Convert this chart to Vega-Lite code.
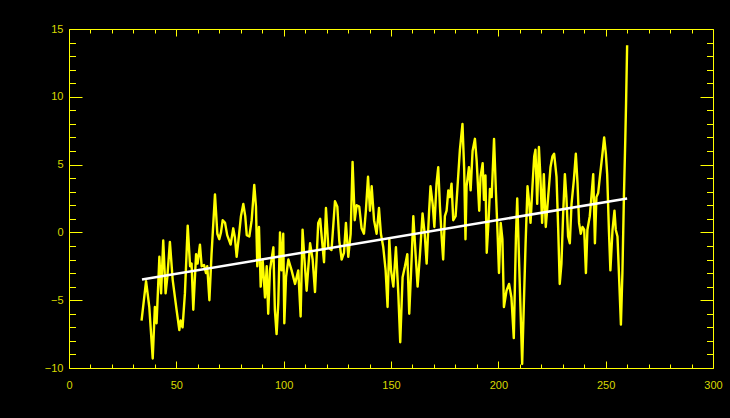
{
  "$schema": "https://vega.github.io/schema/vega-lite/v6.json",
  "width": 644,
  "height": 339,
  "autosize": {"type": "none"},
  "padding": {"left": 69, "top": 29, "right": 17, "bottom": 50},
  "background": "#000000",
  "view": {"stroke": null},
  "config": {
    "axis": {
      "domainColor": "#ffff00",
      "tickColor": "#ffff00",
      "labelColor": "#d8d800",
      "labelFont": "Liberation Sans",
      "labelFontSize": 11,
      "grid": false,
      "title": null,
      "tickWidth": 1,
      "domainWidth": 1
    }
  },
  "datasets": {
    "series": [
      {"x": 33.8, "y": -6.5}, {"x": 35.9, "y": -3.6}, {"x": 37.4, "y": -5.5}, {"x": 39.0, "y": -9.3},
      {"x": 40.0, "y": -5.5}, {"x": 40.8, "y": -6.7}, {"x": 42.1, "y": -1.8}, {"x": 42.9, "y": -4.5},
      {"x": 43.9, "y": -0.6}, {"x": 45.0, "y": -4.5}, {"x": 45.8, "y": -3.3}, {"x": 47.0, "y": -0.7},
      {"x": 48.3, "y": -3.5}, {"x": 50.1, "y": -5.7}, {"x": 51.4, "y": -7.2}, {"x": 52.0, "y": -6.5},
      {"x": 52.9, "y": -7.0}, {"x": 54.0, "y": -4.5}, {"x": 55.3, "y": 0.5}, {"x": 56.4, "y": -2.5},
      {"x": 57.1, "y": -2.3}, {"x": 57.9, "y": -5.7}, {"x": 59.2, "y": -1.6}, {"x": 59.9, "y": -2.3},
      {"x": 61.0, "y": -0.9}, {"x": 61.8, "y": -2.5}, {"x": 62.9, "y": -2.4}, {"x": 63.8, "y": -3.0},
      {"x": 64.4, "y": -2.5}, {"x": 65.4, "y": -5.0}, {"x": 66.4, "y": -1.6}, {"x": 68.0, "y": 2.8},
      {"x": 69.1, "y": -0.1}, {"x": 70.0, "y": -0.5}, {"x": 70.8, "y": 0.0}, {"x": 71.6, "y": 0.9},
      {"x": 72.7, "y": 0.7}, {"x": 73.7, "y": -0.2}, {"x": 75.3, "y": -0.9}, {"x": 76.5, "y": 0.3},
      {"x": 77.3, "y": -0.4}, {"x": 78.1, "y": -1.8}, {"x": 79.2, "y": -0.2}, {"x": 80.1, "y": 1.2},
      {"x": 81.2, "y": 2.1}, {"x": 82.1, "y": 1.2}, {"x": 82.8, "y": -0.2}, {"x": 84.0, "y": -0.3},
      {"x": 85.1, "y": 0.9}, {"x": 86.3, "y": 3.5}, {"x": 87.1, "y": 1.9}, {"x": 87.7, "y": -2.5},
      {"x": 88.5, "y": 0.4}, {"x": 89.3, "y": -4.0}, {"x": 90.2, "y": -2.0}, {"x": 91.3, "y": -4.8},
      {"x": 92.1, "y": -2.5}, {"x": 92.8, "y": -6.0}, {"x": 93.6, "y": -2.8}, {"x": 95.2, "y": -1.1},
      {"x": 95.9, "y": -5.7}, {"x": 96.7, "y": -7.5}, {"x": 97.5, "y": -5.2}, {"x": 98.3, "y": 0.0},
      {"x": 99.0, "y": -2.8}, {"x": 99.8, "y": -0.1}, {"x": 100.3, "y": -6.7}, {"x": 101.1, "y": -3.3},
      {"x": 102.2, "y": -2.0}, {"x": 103.7, "y": -2.8}, {"x": 105.3, "y": -3.8}, {"x": 106.8, "y": -2.8},
      {"x": 107.9, "y": -6.2}, {"x": 108.8, "y": 0.2}, {"x": 109.6, "y": -1.8}, {"x": 110.7, "y": -4.3},
      {"x": 112.3, "y": -0.8}, {"x": 113.5, "y": -2.0}, {"x": 114.6, "y": -4.4}, {"x": 116.1, "y": 0.7},
      {"x": 117.0, "y": 1.0}, {"x": 117.7, "y": -0.3}, {"x": 118.8, "y": -2.2}, {"x": 119.7, "y": 1.8},
      {"x": 120.8, "y": -1.1}, {"x": 122.3, "y": -1.3}, {"x": 123.9, "y": 2.3}, {"x": 125.0, "y": 1.9},
      {"x": 125.9, "y": -0.6}, {"x": 127.0, "y": -2.0}, {"x": 128.1, "y": -1.5}, {"x": 129.0, "y": 0.7},
      {"x": 130.1, "y": -1.8}, {"x": 131.2, "y": -0.1}, {"x": 132.1, "y": 5.2}, {"x": 133.1, "y": 0.9},
      {"x": 134.0, "y": 2.0}, {"x": 135.2, "y": 1.9}, {"x": 136.3, "y": 0.3}, {"x": 137.4, "y": -0.1},
      {"x": 138.3, "y": 1.6}, {"x": 139.3, "y": 4.1}, {"x": 140.2, "y": 1.6}, {"x": 141.0, "y": 3.4},
      {"x": 142.1, "y": 0.9}, {"x": 143.3, "y": -0.1}, {"x": 144.4, "y": 1.8}, {"x": 145.3, "y": -0.1},
      {"x": 146.4, "y": -1.1}, {"x": 147.5, "y": -2.8}, {"x": 148.4, "y": -5.5}, {"x": 149.2, "y": -0.5},
      {"x": 150.0, "y": -2.8}, {"x": 151.1, "y": -4.0}, {"x": 152.3, "y": -1.1}, {"x": 153.4, "y": -4.5},
      {"x": 154.3, "y": -8.1}, {"x": 155.4, "y": -3.3}, {"x": 156.5, "y": -2.5}, {"x": 157.6, "y": -1.6},
      {"x": 158.5, "y": -6.0}, {"x": 159.6, "y": -2.0}, {"x": 160.4, "y": 1.2}, {"x": 161.6, "y": -2.0},
      {"x": 162.4, "y": -4.0}, {"x": 163.5, "y": -1.6}, {"x": 164.7, "y": 1.4}, {"x": 165.7, "y": -0.1},
      {"x": 166.6, "y": -2.3}, {"x": 167.7, "y": 1.4}, {"x": 168.4, "y": 3.4}, {"x": 169.4, "y": 2.1},
      {"x": 170.2, "y": 0.4}, {"x": 171.2, "y": 3.6}, {"x": 172.0, "y": 4.8}, {"x": 172.8, "y": 1.9},
      {"x": 173.7, "y": -0.6}, {"x": 174.3, "y": -2.0}, {"x": 175.1, "y": 1.2}, {"x": 175.9, "y": 1.6},
      {"x": 176.7, "y": 3.1}, {"x": 177.4, "y": 2.6}, {"x": 178.2, "y": 3.6}, {"x": 179.0, "y": 0.9},
      {"x": 180.1, "y": 1.2}, {"x": 181.0, "y": 3.4}, {"x": 182.1, "y": 6.1}, {"x": 183.3, "y": 8.0},
      {"x": 184.1, "y": 4.6}, {"x": 184.7, "y": -0.5}, {"x": 185.2, "y": 3.4}, {"x": 186.3, "y": 4.8},
      {"x": 187.1, "y": 3.1}, {"x": 188.0, "y": 6.0}, {"x": 189.1, "y": 6.9}, {"x": 189.9, "y": 5.3},
      {"x": 191.1, "y": 1.6}, {"x": 191.7, "y": 4.1}, {"x": 192.7, "y": 5.1}, {"x": 193.3, "y": 2.4},
      {"x": 194.0, "y": 4.2}, {"x": 194.6, "y": -1.5}, {"x": 195.5, "y": 1.0}, {"x": 196.1, "y": 3.2},
      {"x": 196.9, "y": 2.6}, {"x": 198.0, "y": 6.9}, {"x": 198.9, "y": 2.9}, {"x": 199.7, "y": -0.3},
      {"x": 200.3, "y": -3.0}, {"x": 201.1, "y": 0.7}, {"x": 201.9, "y": -0.5}, {"x": 202.6, "y": -5.5},
      {"x": 203.8, "y": -4.3}, {"x": 205.0, "y": -3.8}, {"x": 206.1, "y": -4.8}, {"x": 207.2, "y": -7.8},
      {"x": 208.2, "y": -0.3}, {"x": 208.8, "y": 2.5}, {"x": 209.7, "y": -2.3}, {"x": 210.3, "y": -5.5},
      {"x": 211.1, "y": -9.7}, {"x": 211.9, "y": -5.2}, {"x": 212.7, "y": -0.8}, {"x": 213.6, "y": 3.4},
      {"x": 214.4, "y": 2.1}, {"x": 215.0, "y": 0.7}, {"x": 215.9, "y": 3.4}, {"x": 216.7, "y": 5.6},
      {"x": 217.3, "y": 6.1}, {"x": 218.1, "y": 2.1}, {"x": 218.9, "y": 6.3}, {"x": 219.6, "y": 4.1},
      {"x": 220.4, "y": 0.7}, {"x": 221.2, "y": 4.3}, {"x": 222.1, "y": 0.4}, {"x": 223.2, "y": 2.6},
      {"x": 224.3, "y": 4.8}, {"x": 225.2, "y": 5.6}, {"x": 226.0, "y": 5.8}, {"x": 227.1, "y": 4.1},
      {"x": 227.9, "y": 0.2}, {"x": 228.6, "y": -3.8}, {"x": 229.4, "y": -2.3}, {"x": 230.2, "y": 1.4},
      {"x": 231.0, "y": 4.3}, {"x": 231.7, "y": 2.6}, {"x": 232.5, "y": -0.3}, {"x": 233.3, "y": -0.8},
      {"x": 234.1, "y": 2.1}, {"x": 235.2, "y": 3.9}, {"x": 236.1, "y": 5.8}, {"x": 236.9, "y": 3.6},
      {"x": 237.6, "y": 0.7}, {"x": 238.4, "y": -0.1}, {"x": 239.2, "y": 0.4}, {"x": 240.0, "y": 0.2},
      {"x": 240.8, "y": -3.0}, {"x": 241.5, "y": 0.2}, {"x": 242.6, "y": 1.2}, {"x": 243.5, "y": 2.9},
      {"x": 244.2, "y": 4.3}, {"x": 245.0, "y": -0.8}, {"x": 245.7, "y": 2.6}, {"x": 246.5, "y": 2.9},
      {"x": 247.3, "y": 4.1}, {"x": 248.5, "y": 5.8}, {"x": 249.3, "y": 7.0}, {"x": 250.1, "y": 5.8},
      {"x": 250.7, "y": 4.3}, {"x": 251.5, "y": 0.2}, {"x": 252.2, "y": -2.8}, {"x": 253.2, "y": 0.2},
      {"x": 254.1, "y": 1.6}, {"x": 254.7, "y": 0.2}, {"x": 255.5, "y": -0.3}, {"x": 256.3, "y": -3.5},
      {"x": 257.1, "y": -6.8}, {"x": 257.8, "y": -3.0}, {"x": 258.5, "y": 2.6}, {"x": 259.1, "y": 6.6},
      {"x": 259.5, "y": 9.5}, {"x": 260.0, "y": 13.8}
    ],
    "fit": [
      {"x": 34, "y": -3.47},
      {"x": 260, "y": 2.5}
    ]
  },
  "layer": [
    {
      "data": {"name": "series"},
      "mark": {"type": "line", "color": "#ffff00", "strokeWidth": 2.4, "strokeJoin": "round", "clip": true},
      "encoding": {
        "x": {
          "field": "x", "type": "quantitative",
          "scale": {"domain": [0, 300], "nice": false, "zero": false},
          "axis": {
            "orient": "bottom",
            "values": [0,10,20,30,40,50,60,70,80,90,100,110,120,130,140,150,160,170,180,190,200,210,220,230,240,250,260,270,280,290,300],
            "labelExpr": "datum.value % 50 === 0 ? datum.label : ''",
            "tickSize": {"condition": {"test": "datum.value % 50 === 0", "value": -7}, "value": -4},
            "labelPadding": 18,
            "labelFlush": false,
            "labelOverlap": false
          }
        },
        "y": {
          "field": "y", "type": "quantitative",
          "scale": {"domain": [-10, 15], "nice": false, "zero": false},
          "axis": {
            "orient": "left",
            "values": [-10,-9,-8,-7,-6,-5,-4,-3,-2,-1,0,1,2,3,4,5,6,7,8,9,10,11,12,13,14,15],
            "labelExpr": "datum.value % 5 === 0 ? datum.label : ''",
            "tickSize": {"condition": {"test": "datum.value % 5 === 0", "value": -13}, "value": -6.5},
            "labelPadding": 19,
            "labelFlush": false,
            "labelOverlap": false
          }
        }
      }
    },
    {
      "data": {"name": "fit"},
      "mark": {"type": "line", "color": "#ffffff", "strokeWidth": 2.5},
      "encoding": {
        "x": {
          "field": "x", "type": "quantitative",
          "axis": {
            "orient": "top",
            "values": [0,10,20,30,40,50,60,70,80,90,100,110,120,130,140,150,160,170,180,190,200,210,220,230,240,250,260,270,280,290,300],
            "labels": false,
            "tickSize": {"condition": {"test": "datum.value % 50 === 0", "value": -7}, "value": -4}
          }
        },
        "y": {
          "field": "y", "type": "quantitative",
          "axis": {
            "orient": "right",
            "values": [-10,-9,-8,-7,-6,-5,-4,-3,-2,-1,0,1,2,3,4,5,6,7,8,9,10,11,12,13,14,15],
            "labels": false,
            "tickSize": {"condition": {"test": "datum.value % 5 === 0", "value": -13}, "value": -6.5}
          }
        }
      }
    }
  ],
  "resolve": {"axis": {"x": "independent", "y": "independent"}}
}
